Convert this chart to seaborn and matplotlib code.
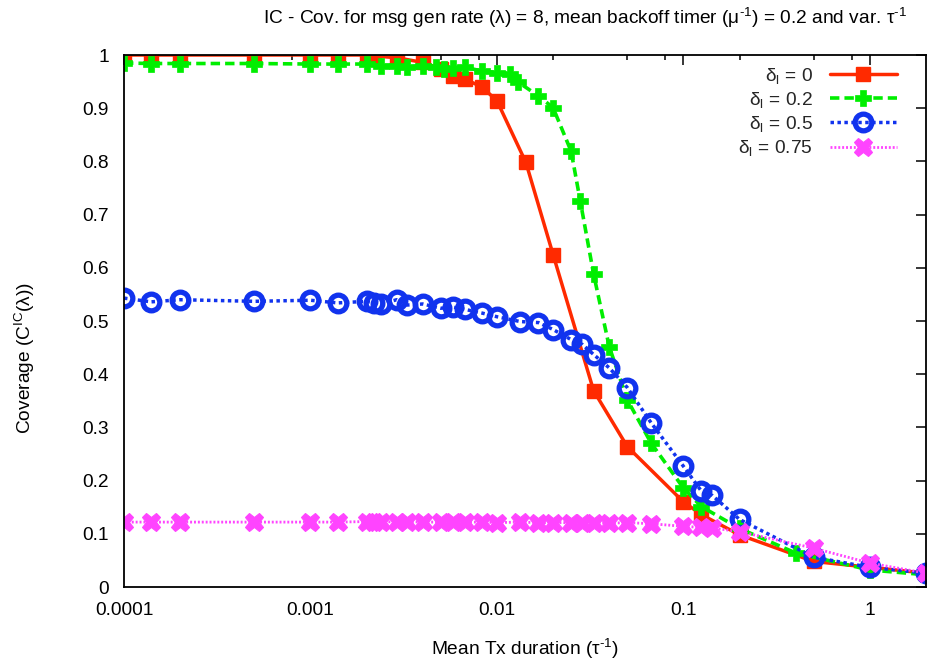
import matplotlib
matplotlib.use("Agg")
import matplotlib.pyplot as plt
import seaborn as sns
from matplotlib import font_manager
from matplotlib.ticker import FixedLocator, NullFormatter

# ---------------- data ----------------
x_red = [0.0001, 0.00014, 0.0002, 0.0005, 0.001, 0.0014, 0.002, 0.0022, 0.0029,
         0.004, 0.005, 0.0058, 0.0067, 0.0083, 0.01, 0.0143, 0.02, 0.033, 0.05,
         0.1, 0.125, 0.2, 0.5, 1, 2]
y_red = [1.0, 1.0, 1.0, 1.0, 1.0, 1.0, 1.0, 0.998, 0.995,
         0.986, 0.974, 0.961, 0.955, 0.940, 0.914, 0.798, 0.625, 0.369, 0.264,
         0.160, 0.136, 0.098, 0.048, 0.037, 0.026]

x_green = [0.0001, 0.00014, 0.0002, 0.0005, 0.001, 0.0014, 0.002, 0.0024, 0.0029,
           0.0033, 0.004, 0.0047, 0.0052, 0.0058, 0.0067, 0.0083, 0.01, 0.0118,
           0.013, 0.0167, 0.02, 0.025, 0.028, 0.033, 0.04, 0.05, 0.067, 0.1,
           0.125, 0.2, 0.4, 1, 2]
y_green = [0.985, 0.984, 0.984, 0.984, 0.983, 0.983, 0.983, 0.980, 0.980,
           0.977, 0.980, 0.977, 0.974, 0.975, 0.977, 0.970, 0.967, 0.964,
           0.949, 0.923, 0.901, 0.819, 0.725, 0.588, 0.452, 0.352, 0.271, 0.186,
           0.151, 0.110, 0.064, 0.032, 0.023]

x_blue = [0.0001, 0.00014, 0.0002, 0.0005, 0.001, 0.0014, 0.002, 0.0022, 0.0024,
          0.0029, 0.0033, 0.004, 0.005, 0.0058, 0.0067, 0.0083, 0.01, 0.0133,
          0.0167, 0.02, 0.025, 0.0287, 0.033, 0.04, 0.05, 0.067, 0.1, 0.125,
          0.143, 0.2, 0.5, 1, 2]
y_blue = [0.543, 0.536, 0.540, 0.537, 0.539, 0.534, 0.537, 0.534, 0.532,
          0.540, 0.530, 0.532, 0.524, 0.526, 0.522, 0.515, 0.508, 0.499,
          0.497, 0.484, 0.465, 0.456, 0.437, 0.412, 0.375, 0.309, 0.227, 0.180,
          0.172, 0.127, 0.056, 0.037, 0.026]

x_mag = x_blue
y_mag = [0.122, 0.122, 0.122, 0.122, 0.122, 0.122, 0.123, 0.123, 0.123,
         0.122, 0.123, 0.122, 0.122, 0.123, 0.122, 0.122, 0.121, 0.122,
         0.121, 0.121, 0.121, 0.120, 0.120, 0.120, 0.121, 0.119, 0.114, 0.112,
         0.111, 0.104, 0.073, 0.045, 0.026]

labels = ["0", "0.2", "0.5", "0.75"]
x_major = [0.0001, 0.001, 0.01, 0.1, 1]
x_major_labels = ["0.0001", "0.001", "0.01", "0.1", "1"]
y_ticks = [0, 0.1, 0.2, 0.3, 0.4, 0.5, 0.6, 0.7, 0.8, 0.9, 1.0]
y_tick_labels = ["0", "0.1", "0.2", "0.3", "0.4", "0.5", "0.6", "0.7", "0.8", "0.9", "1"]

# ---------------- style ----------------
sns.set_theme(style="white")
names = {f.name for f in font_manager.fontManager.ttflist}
if "Liberation Sans Narrow" in names:
    fam = "Liberation Sans Narrow"
    fs = 15
else:
    fam = "Liberation Sans"
    fs = 13.8
plt.rcParams["font.family"] = [fam, "DejaVu Sans"]
plt.rcParams["mathtext.fontset"] = "custom"
plt.rcParams["mathtext.rm"] = fam
plt.rcParams["mathtext.it"] = fam
plt.rcParams["mathtext.bf"] = fam
plt.rcParams["axes.unicode_minus"] = False

RED = "#ff2a00"
GREEN = "#00ee00"
BLUE = "#1133ee"
MAG = "#ff44ff"

fig = plt.figure(figsize=(9.49, 6.65), dpi=100)
ax = fig.add_axes([124 / 949, 1 - 587 / 665, 802 / 949, 532 / 665])

sns.lineplot(x=x_red, y=y_red, ax=ax, color=RED, lw=2.5, linestyle="-",
             marker="s", markersize=9.5, markeredgecolor=RED, markerfacecolor=RED,
             markeredgewidth=1, estimator=None, sort=False,
             label=r"δ$_\mathrm{l}$ = " + labels[0])
sns.lineplot(x=x_green, y=y_green, ax=ax, color=GREEN, lw=2.6,
             linestyle=(0, (2.6, 1.4)),
             marker="P", markersize=12, markeredgecolor=GREEN, markerfacecolor=GREEN,
             markeredgewidth=0.5, estimator=None, sort=False,
             label=r"δ$_\mathrm{l}$ = " + labels[1])
sns.lineplot(x=x_blue, y=y_blue, ax=ax, color=BLUE, lw=2.5,
             linestyle=(0, (1.0, 1.0)),
             marker="o", markersize=12, markeredgecolor=BLUE, markerfacecolor="none",
             markeredgewidth=3.8, estimator=None, sort=False,
             label=r"δ$_\mathrm{l}$ = " + labels[2])
sns.lineplot(x=x_mag, y=y_mag, ax=ax, color=MAG, lw=2.0,
             linestyle=(0, (0.7, 0.7)),
             marker="X", markersize=13, markeredgecolor=MAG, markerfacecolor=MAG,
             markeredgewidth=0.8, estimator=None, sort=False,
             label=r"δ$_\mathrm{l}$ = " + labels[3])

ax.set_xscale("log")
ax.set_xlim(0.0001, 2)
ax.set_ylim(0, 1)
ax.xaxis.set_major_locator(FixedLocator(x_major))
ax.set_xticklabels(x_major_labels)
minors = [m * d for d in [0.0001, 0.001, 0.01, 0.1] for m in (2, 5, 8)]
ax.xaxis.set_minor_locator(FixedLocator(minors))
ax.xaxis.set_minor_formatter(NullFormatter())
ax.set_yticks(y_ticks)
ax.set_yticklabels(y_tick_labels)

ax.tick_params(which="both", direction="in", top=True, right=True,
               color="black", width=1.1, labelsize=fs, labelcolor="black")
ax.tick_params(which="major", length=7)
ax.tick_params(which="minor", length=3.6)
ax.tick_params(axis="y", pad=11)
ax.tick_params(axis="x", pad=11)
for s in ax.spines.values():
    s.set_color("black")
    s.set_linewidth(1.3)

ax.set_xlabel(r"Mean Tx duration (τ$^{\text{-1}}$)", fontsize=fs, color="black")
ax.xaxis.set_label_coords(0.5, -0.093)
ax.set_ylabel(r"Coverage (C$^{\mathrm{IC}}$(λ))", fontsize=fs, color="black")
ax.yaxis.set_label_coords(-0.108, 0.43)

fig.text(585 / 949, 1 - 18 / 665,
         r"IC - Cov. for msg gen rate (λ) = 8, mean backoff timer (μ$^{\text{-1}}$) = 0.2 and var. τ$^{\text{-1}}$",
         ha="center", va="center", fontsize=fs, color="black")

leg = ax.legend(loc="upper right", bbox_to_anchor=((897 - 124) / 802, 0.98),
                frameon=False, markerfirst=False, fontsize=fs, handlelength=3.5,
                handletextpad=0.9, borderpad=0, borderaxespad=0, labelspacing=0.22,
                numpoints=1)

fig.savefig("out.png", dpi=100)
